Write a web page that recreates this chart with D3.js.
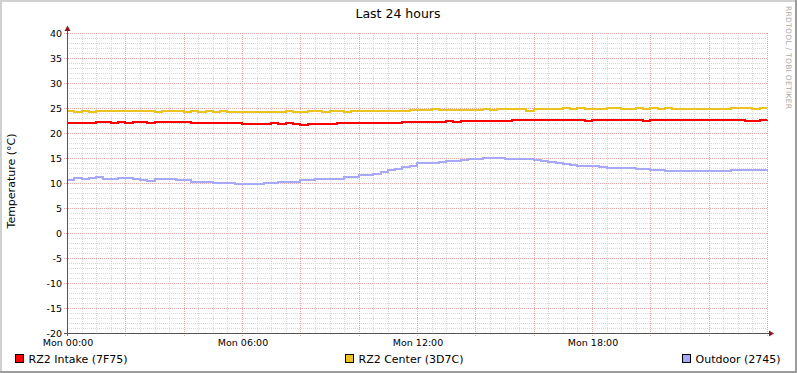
<!DOCTYPE html>
<html>
<head>
<meta charset="utf-8">
<script src="https://cdn.jsdelivr.net/npm/d3@7"></script>
<style>
  body { margin: 0; background: #fff; }
  svg { display: block; font-family: "DejaVu Sans", sans-serif; }
</style>
</head>
<body>
<svg width="797" height="373"></svg>
<script>
const width = 797;
const height = 373;

// Series values, one sample every 15 minutes from Mon 00:00 (97 samples)
const intake = [
  22.0, 22.0, 22.0, 22.0, 22.2, 22.2, 22.0, 22.2, 22.0, 22.2, 22.2, 22.0,
  22.2, 22.2, 22.2, 22.2, 22.2, 22.0, 22.0, 22.0, 22.0, 22.0, 22.0, 22.0,
  21.8, 21.8, 21.8, 21.8, 22.0, 21.8, 22.0, 21.9, 21.7, 21.9, 21.9, 21.9,
  21.9, 22.0, 22.1, 22.0, 22.1, 22.0, 22.0, 22.1, 22.1, 22.1, 22.2, 22.2,
  22.2, 22.2, 22.3, 22.2, 22.4, 22.3, 22.4, 22.4, 22.4, 22.5, 22.5, 22.5,
  22.5, 22.6, 22.6, 22.6, 22.6, 22.6, 22.6, 22.6, 22.6, 22.6, 22.6, 22.4,
  22.6, 22.6, 22.6, 22.6, 22.6, 22.6, 22.6, 22.5, 22.6, 22.6, 22.6, 22.6,
  22.6, 22.6, 22.6, 22.6, 22.6, 22.6, 22.6, 22.6, 22.6, 22.4, 22.4, 22.6,
  22.7
];
const center = [
  24.4, 24.2, 24.4, 24.2, 24.4, 24.4, 24.4, 24.4, 24.4, 24.4, 24.4, 24.4,
  24.2, 24.4, 24.4, 24.4, 24.2, 24.4, 24.2, 24.4, 24.2, 24.4, 24.2, 24.2,
  24.2, 24.2, 24.2, 24.2, 24.2, 24.2, 24.5, 24.3, 24.3, 24.4, 24.5, 24.3,
  24.4, 24.5, 24.3, 24.5, 24.4, 24.4, 24.4, 24.4, 24.5, 24.5, 24.5, 24.6,
  24.6, 24.6, 24.8, 24.6, 24.7, 24.6, 24.7, 24.7, 24.6, 24.8, 24.7, 24.8,
  24.8, 24.8, 24.8, 24.5, 24.8, 24.8, 24.8, 24.8, 25.0, 24.8, 25.0, 24.8,
  24.9, 24.9, 25.1, 25.0, 24.9, 24.9, 25.1, 24.9, 25.0, 24.9, 25.1, 24.9,
  24.9, 24.9, 24.9, 24.9, 24.9, 24.9, 24.9, 25.1, 25.0, 25.1, 24.9, 25.0,
  25.0
];
const outdoor = [
  10.6, 11.1, 10.9, 11.0, 11.3, 10.9, 10.9, 11.0, 11.0, 10.9, 10.7, 10.4,
  10.9, 10.9, 10.8, 10.6, 10.6, 10.3, 10.3, 10.2, 10.1, 10.1, 10.0, 9.9,
  9.9, 9.9, 9.9, 10.0, 10.0, 10.2, 10.3, 10.3, 10.6, 10.6, 10.8, 10.8,
  10.8, 10.9, 11.3, 11.3, 11.6, 11.7, 11.9, 12.3, 12.6, 12.8, 13.3, 13.5,
  14.0, 14.0, 14.1, 14.2, 14.4, 14.5, 14.7, 14.8, 14.9, 15.1, 15.1, 15.0,
  14.9, 14.9, 14.8, 14.8, 14.7, 14.5, 14.2, 14.0, 13.9, 13.7, 13.5, 13.5,
  13.5, 13.3, 13.1, 13.1, 13.0, 13.0, 12.8, 12.8, 12.6, 12.6, 12.5, 12.5,
  12.5, 12.5, 12.5, 12.5, 12.5, 12.5, 12.5, 12.7, 12.7, 12.6, 12.7, 12.7,
  12.5
];

const seriesNames = ["RZ2 Intake (7F75)", "RZ2 Center (3D7C)", "Outdoor (2745)"];
const seriesColors = ["#ff0000", "#ecc21e", "#a8a8f8"];
const yTicks = [-20, -15, -10, -5, 0, 5, 10, 15, 20, 25, 30, 35, 40];

const start = new Date(2012, 0, 2, 0, 0); // a Monday
const end = new Date(2012, 0, 3, 0, 0);
const times = intake.map((d, i) => d3.timeMinute.offset(start, i * 15));

const svg = d3.select("svg");

// Frame
svg.append("rect").attr("width", width).attr("height", height).attr("fill", "#fff");
svg.append("path").attr("d", `M0,${height} V0 H${width}`).attr("fill", "none")
  .attr("stroke", "#d0d0d0").attr("stroke-width", 4);
svg.append("path").attr("d", `M0,${height} H${width} V0`).attr("fill", "none")
  .attr("stroke", "#9c9c9c").attr("stroke-width", 4);

const x = d3.scaleTime().domain([start, end]).range([67, 767]);
const y = d3.scaleLinear().domain([-20, 40]).range([333, 33]);

// Grid
const grid = svg.append("g").attr("shape-rendering", "crispEdges");
grid.selectAll(".hmin").data(d3.range(-20, 41, 1).filter(v => v % 5 !== 0)).enter()
  .append("line")
  .attr("x1", 67).attr("x2", 767)
  .attr("y1", d => y(d) + 0.5).attr("y2", d => y(d) + 0.5)
  .attr("stroke", "#d8d8d8").attr("stroke-dasharray", "1,1");
grid.selectAll(".vmin").data(x.ticks(d3.timeMinute.every(30)).filter(d => d.getMinutes() !== 0 || d.getHours() % 2 !== 0)).enter()
  .append("line")
  .attr("x1", d => Math.round(x(d)) + 0.5).attr("x2", d => Math.round(x(d)) + 0.5)
  .attr("y1", 33).attr("y2", 333)
  .attr("stroke", "#d8d8d8").attr("stroke-dasharray", "1,1");
grid.selectAll(".hmaj").data(yTicks).enter()
  .append("line")
  .attr("x1", 64).attr("x2", 767)
  .attr("y1", d => y(d) + 0.5).attr("y2", d => y(d) + 0.5)
  .attr("stroke", "#e8a8a8").attr("stroke-dasharray", "1,1");
grid.selectAll(".vmaj").data(x.ticks(d3.timeHour.every(2))).enter()
  .append("line")
  .attr("x1", d => Math.round(x(d)) + 0.5).attr("x2", d => Math.round(x(d)) + 0.5)
  .attr("y1", 33).attr("y2", 336)
  .attr("stroke", "#e8a8a8").attr("stroke-dasharray", "1,1");

// Lines
const line = d3.line()
  .x((d, i) => x(times[i]))
  .y(d => y(d))
  .curve(d3.curveStepAfter);

[intake, center, outdoor].forEach((values, k) => {
  svg.append("path")
    .datum(values)
    .attr("d", line)
    .attr("fill", "none")
    .attr("stroke", seriesColors[k])
    .attr("stroke-width", 2)
    .attr("shape-rendering", "crispEdges");
});

// Axes
svg.append("line").attr("x1", 67.5).attr("x2", 67.5).attr("y1", 336).attr("y2", 29)
  .attr("stroke", "#555").attr("stroke-width", 1);
svg.append("line").attr("x1", 64).attr("x2", 770).attr("y1", 333.5).attr("y2", 333.5)
  .attr("stroke", "#555").attr("stroke-width", 1);
svg.append("path").attr("d", "M67.5,25.5 L64.5,31 L70.5,31 Z").attr("fill", "#8b1a1a");
svg.append("path").attr("d", "M774,333.5 L769,330.5 L769,336.5 Z").attr("fill", "#8b1a1a");

// Tick labels
svg.append("g").selectAll("text").data(yTicks).enter()
  .append("text")
  .attr("x", 62).attr("y", d => y(d) + 3.5)
  .attr("text-anchor", "end")
  .attr("font-size", "9.5px")
  .attr("fill", "#000")
  .text(d => d);

const fmt = d3.timeFormat("%a %H:%M");
svg.append("g").selectAll("text").data(x.ticks(d3.timeHour.every(6)).filter(d => d < end)).enter()
  .append("text")
  .attr("x", d => x(d) + 1)
  .attr("y", 346)
  .attr("text-anchor", "middle")
  .attr("font-size", "9.5px")
  .attr("fill", "#000")
  .text(fmt);

// Title and labels
svg.append("text").attr("x", 398).attr("y", 18).attr("text-anchor", "middle")
  .attr("font-size", "12.5px").attr("fill", "#000").text("Last 24 hours");
svg.append("text").attr("transform", "translate(15,181) rotate(-90)")
  .attr("text-anchor", "middle").attr("font-size", "11px").attr("fill", "#000")
  .text("Temperature (°C)");
svg.append("text").attr("transform", "translate(786,6) rotate(90)")
  .attr("text-anchor", "start").attr("font-size", "7.5px").attr("fill", "#aaa")
  .attr("letter-spacing", "0.3px")
  .text("RRDTOOL / TOBI OETIKER");

// Legend
const legendX = [15.5, 345.5, 682.5];
const legend = svg.append("g").selectAll("g").data(seriesNames).enter()
  .append("g").attr("transform", (d, i) => `translate(${legendX[i]},354.5)`);
legend.append("rect").attr("width", 8).attr("height", 8)
  .attr("fill", (d, i) => seriesColors[i]).attr("stroke", "#000").attr("stroke-width", 1);
legend.append("text").attr("x", 13).attr("y", 8.5)
  .attr("font-size", "11px").attr("fill", "#000").text(d => d);
</script>
</body>
</html>
